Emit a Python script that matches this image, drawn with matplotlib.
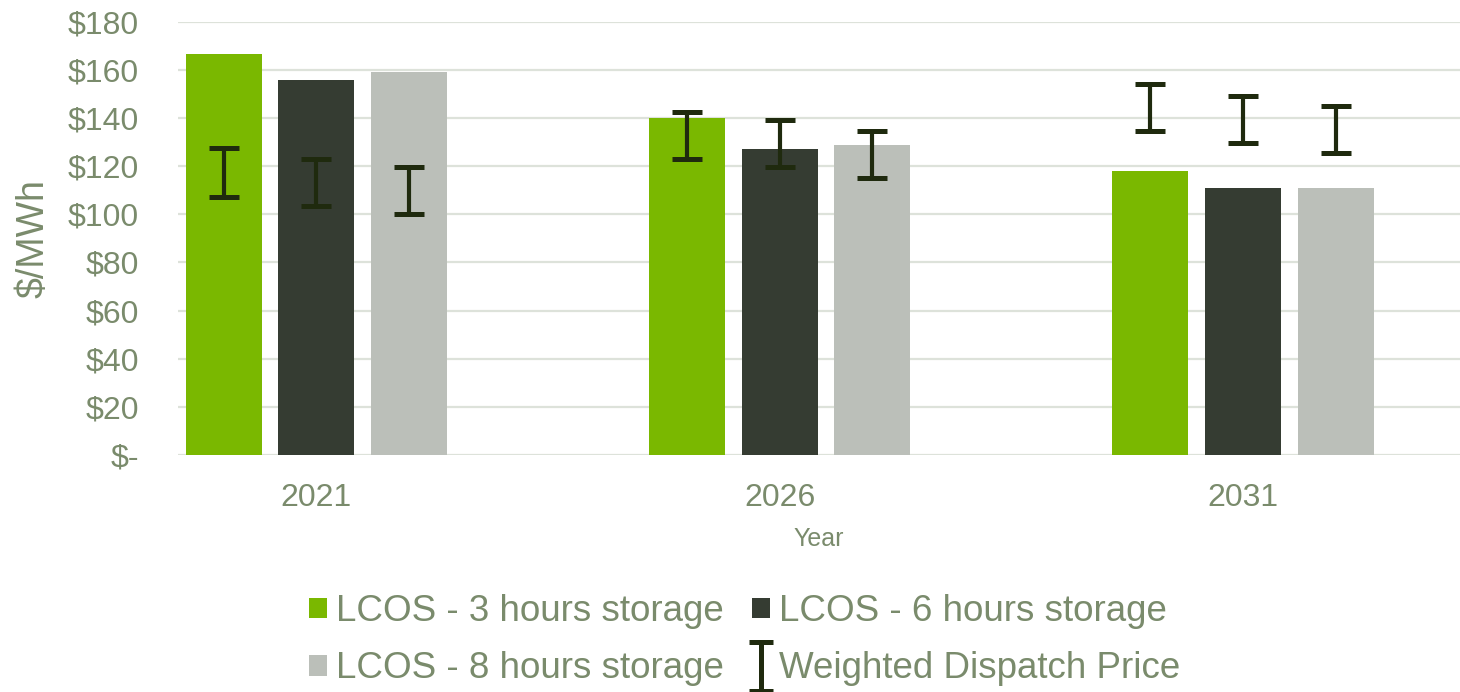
import numpy as np
import matplotlib
matplotlib.use("Agg")
import matplotlib.pyplot as plt
from matplotlib.ticker import FuncFormatter
from matplotlib.legend_handler import HandlerErrorbar
from matplotlib.lines import Line2D

plt.rcParams['font.family'] = ['Liberation Sans', 'DejaVu Sans']

years = ["2021", "2026", "2031"]
series = ["LCOS - 3 hours storage", "LCOS - 6 hours storage", "LCOS - 8 hours storage"]
lcos_3h = [166.5, 140, 118]
lcos_6h = [156, 127, 111]
lcos_8h = [159, 129, 111]
# weighted dispatch price range (low, high) per bar
price_low_3h = [107, 123, 134.5]
price_high_3h = [127.5, 142.5, 154]
price_low_6h = [103.5, 119.5, 129.5]
price_high_6h = [123, 139, 149]
price_low_8h = [100, 115, 125.5]
price_high_8h = [119.5, 134.5, 145]

colors = ['#7AB800', '#353C32', '#BBBFB9']
err_color = '#1F2A0E'
text_color = '#7A8B6C'
grid_color = '#DDE2DA'

fig = plt.figure(figsize=(14.6, 6.92), dpi=100)
ax = fig.add_axes([0.122, 0.3425, 0.878, 0.626])

x = np.arange(len(years))
width = 0.164
step = 0.2
values = [lcos_3h, lcos_6h, lcos_8h]
lows = [price_low_3h, price_low_6h, price_low_8h]
highs = [price_high_3h, price_high_6h, price_high_8h]

bar_handles = []
err = None
for i in range(3):
    pos = x + (i - 1) * step
    b = ax.bar(pos, values[i], width, color=colors[i], label=series[i], zorder=2)
    bar_handles.append(b)
    lo = np.array(lows[i])
    hi = np.array(highs[i])
    mid = (lo + hi) / 2
    err = ax.errorbar(pos, mid, yerr=(hi - lo) / 2, fmt='none', ecolor=err_color,
                      elinewidth=3, capsize=11, capthick=3.6, zorder=3,
                      label="Weighted Dispatch Price")

ax.set_ylim(0, 180)
ax.set_xlim(-0.298, 2.468)
ax.set_yticks(np.arange(0, 181, 20))
ax.yaxis.set_major_formatter(FuncFormatter(lambda v, p: "$-" if v == 0 else "$%d" % v))
ax.set_xticks(x)
ax.set_xticklabels(years)
ax.grid(axis='y', color=grid_color, linewidth=1.6, zorder=0)
ax.set_axisbelow(True)
for s in ax.spines.values():
    s.set_visible(False)
ax.tick_params(axis='both', length=0, labelsize=23, colors=text_color)
ax.tick_params(axis='x', pad=20)
ax.tick_params(axis='y', pad=28)
ax.set_ylabel("$/MWh", fontsize=27, color=text_color, labelpad=12)
ax.set_xlabel("Year", fontsize=18, color=text_color, labelpad=10)


def small_caps(h, o):
    h.update_from(o)
    if isinstance(h, Line2D):
        h.set_markersize(17)
        h.set_markeredgewidth(3.6)
    else:
        h.set_linewidth(3.6)


handles = [bar_handles[0], bar_handles[2], bar_handles[1], err]
labels = [series[0], series[2], series[1], "Weighted Dispatch Price"]
leg = fig.legend(handles, labels, ncol=2, loc='center', bbox_to_anchor=(0.51, 0.075),
                 frameon=False, fontsize=26.5, labelcolor=text_color,
                 handlelength=0.5, handleheight=0.5, handletextpad=0.25,
                 columnspacing=0.75, labelspacing=0.6,
                 handler_map={type(err): HandlerErrorbar(yerr_size=0.66, update_func=small_caps)})

fig.savefig("out.png", dpi=100)
